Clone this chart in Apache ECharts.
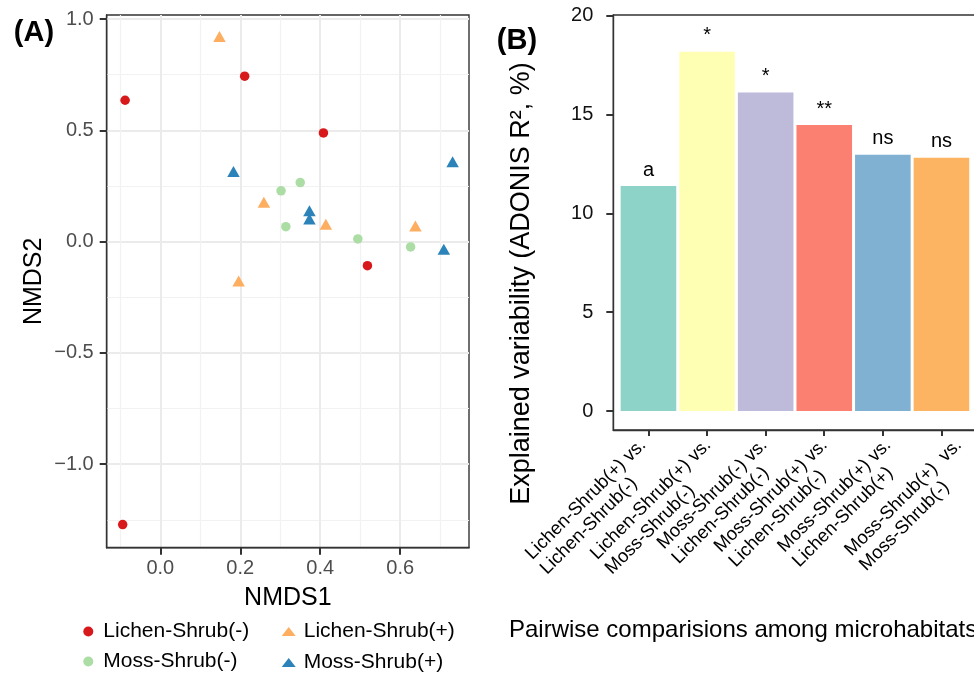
<!DOCTYPE html>
<html>
<head>
<meta charset="utf-8">
<script src="https://cdn.jsdelivr.net/npm/echarts@6/dist/echarts.min.js"></script>
<style>
html, body { margin: 0; padding: 0; background: #fff; }
#chart { width: 974px; height: 678px; }
</style>
</head>
<body>
<div id="chart"></div>
<script>
// panel A: NMDS scores per microhabitat [NMDS1, NMDS2]
const lichenMinus = [[-0.088, 0.635], [0.211, 0.743], [0.408, 0.488], [0.518, -0.108], [-0.094, -1.271]];
const mossMinus = [[0.302, 0.228], [0.350, 0.265], [0.314, 0.067], [0.494, 0.012], [0.626, -0.024]];
const lichenPlus = [[0.148, 0.921], [0.259, 0.177], [0.414, 0.078], [0.638, 0.070], [0.196, -0.177]];
const mossPlus = [[0.183, 0.315], [0.373, 0.139], [0.373, 0.102], [0.731, 0.359], [0.709, -0.034]];
const nmds1Ticks = [0, 0.2, 0.4, 0.6];
const nmds2Ticks = [-1, -0.5, 0, 0.5, 1];

// panel B: pairwise ADONIS R2 (%)
const pairFirst = ['Lichen-Shrub(+) vs.', 'Lichen-Shrub(+) vs.', 'Moss-Shrub(-) vs.', 'Moss-Shrub(+) vs.', 'Moss-Shrub(+) vs.', 'Moss-Shrub(+)  vs.'];
const pairSecond = ['Lichen-Shrub(-)', 'Moss-Shrub(-)', 'Lichen-Shrub(-)', 'Lichen-Shrub(-)', 'Lichen-Shrub(+)', 'Moss-Shrub(-)'];
const pairTicks = [1, 2, 3, 4, 5, 6];
const r2Values = [11.38, 18.17, 16.12, 14.47, 12.97, 12.81];
const signif = ['a', '*', '*', '**', 'ns', 'ns'];
const r2Ticks = [0, 5, 10, 15, 20];

const barColors = ['#8dd3c7', '#ffffb3', '#bebada', '#fb8072', '#80b1d3', '#fdb462'];
// horizontal nudge of each rotated tick label (px, to the right)
const labelNudge = [0, 6.3, 3.9, 5.6, 10.6, 22.6];
const FONT = '"Liberation Sans", Arial, Helvetica, sans-serif';
const TRIANGLE = 'path://M7,0L14,9L0,9Z';

const X_A = [-0.134, 0.772];
const Y_A = [-1.375, 1.018];
const X_B = [0.4, 6.6];
const Y_B = [-0.96, 20.035];

const chart = echarts.init(document.getElementById('chart'));

const minus = v => String(v.toFixed(1)).replace('-', '\u2212');

// axis that only draws the frame line and outward ticks
function tickAxis(gridIndex, range, values, len, position) {
    return {
        gridIndex: gridIndex, type: 'value', min: range[0], max: range[1], position: position,
        axisLine: { show: true, onZero: false, lineStyle: { color: '#333', width: 1.4 } },
        axisTick: { show: true, inside: false, customValues: values, length: len, lineStyle: { color: '#333', width: 2 } },
        axisLabel: { show: false },
        splitLine: { show: false }
    };
}

function scatter(name, data, symbol, color, size) {
    return {
        name: name,
        type: 'scatter',
        xAxisIndex: 0,
        yAxisIndex: 0,
        data: data,
        symbol: symbol,
        symbolSize: size,
        itemStyle: { color: color, opacity: 1 },
        emphasis: { disabled: true },
        z: 5
    };
}

// one hidden axis per pair label so every label can be nudged on its own
const labelAxes = pairFirst.map((first, i) => {
    const k = labelNudge[i] * Math.SQRT1_2;
    return {
        gridIndex: 1, type: 'value', min: X_B[0], max: X_B[1], position: 'bottom',
        axisLine: { show: false, onZero: false },
        axisTick: { show: false },
        splitLine: { show: false },
        axisLabel: {
            customValues: [pairTicks[i]],
            rotate: 45, align: 'right', verticalAlign: 'top', margin: -8,
            padding: [k, 18 - k, 0, 0],
            formatter: () => '{t|' + first + '}\n{t|' + pairSecond[i] + '}',
            rich: { t: { align: 'left', fontSize: 18.5, lineHeight: 21, color: '#000', fontFamily: FONT } }
        }
    };
});

chart.setOption({
    animation: false,
    textStyle: { fontFamily: FONT },
    grid: [
        { left: 106.7, top: 15, width: 362.3, height: 532.7, show: true, borderColor: '#333', borderWidth: 1.4, backgroundColor: 'transparent', outerBoundsMode: 'none', containLabel: false },
        { left: 613.3, top: 15, width: 363.3, height: 415, show: true, borderColor: '#333', borderWidth: 1.4, backgroundColor: 'transparent', outerBoundsMode: 'none', containLabel: false }
    ],
    xAxis: [
        {
            gridIndex: 0, type: 'value', min: X_A[0], max: X_A[1], position: 'bottom',
            name: 'NMDS1', nameLocation: 'middle', nameGap: 38,
            nameTextStyle: { fontSize: 25, color: '#000', fontFamily: FONT },
            axisLine: { show: false, onZero: false },
            axisTick: { show: false },
            axisLabel: { customValues: nmds1Ticks, fontSize: 20, color: '#4d4d4d', margin: 11, fontFamily: FONT, formatter: minus },
            splitLine: { show: true, showMinLine: false, showMaxLine: false, lineStyle: { color: '#ebebeb', width: 2 } },
            minorTick: { show: false, splitNumber: 2 },
            minorSplitLine: { show: true, lineStyle: { color: '#f2f2f2', width: 1.2 } }
        },
        tickAxis(1, X_B, pairTicks, 6, 'bottom'),
        tickAxis(0, X_A, nmds1Ticks, 7, 'bottom')
    ].concat(labelAxes),
    yAxis: [
        {
            gridIndex: 0, type: 'value', min: Y_A[0], max: Y_A[1], position: 'left',
            name: 'NMDS2', nameLocation: 'middle', nameGap: 60,
            nameTextStyle: { fontSize: 25, color: '#000', fontFamily: FONT },
            axisLine: { show: false, onZero: false },
            axisTick: { show: false },
            axisLabel: { customValues: nmds2Ticks, fontSize: 20, color: '#4d4d4d', margin: 13, fontFamily: FONT, formatter: minus },
            splitLine: { show: true, showMinLine: false, showMaxLine: false, lineStyle: { color: '#ebebeb', width: 2 } },
            minorTick: { show: false, splitNumber: 2 },
            minorSplitLine: { show: true, lineStyle: { color: '#f2f2f2', width: 1.2 } }
        },
        {
            gridIndex: 1, type: 'value', min: Y_B[0], max: Y_B[1], position: 'left',
            axisLine: { show: false, onZero: false },
            axisTick: { show: false },
            axisLabel: { customValues: r2Ticks, fontSize: 20, color: '#111', margin: 20, fontFamily: FONT },
            splitLine: { show: false }
        },
        tickAxis(0, Y_A, nmds2Ticks, 7, 'left'),
        tickAxis(1, Y_B, r2Ticks, 7, 'left')
    ],
    legend: [
        {
            left: 83.3, top: 621, orient: 'vertical', padding: 0, symbolKeepAspect: true,
            itemWidth: 20, itemHeight: 10, itemGap: 9,
            textStyle: { fontSize: 21, color: '#000', fontFamily: FONT },
            data: [{ name: 'Lichen-Shrub(-)', icon: 'circle' }, { name: 'Moss-Shrub(-)', icon: 'circle' }]
        },
        {
            left: 281.7, top: 621, orient: 'vertical', padding: 0, symbolKeepAspect: true,
            itemWidth: 20, itemHeight: 9, itemGap: 10,
            textStyle: { fontSize: 21, color: '#000', fontFamily: FONT },
            data: [{ name: 'Lichen-Shrub(+)', icon: TRIANGLE }, { name: 'Moss-Shrub(+)', icon: TRIANGLE }]
        }
    ],
    graphic: [
        { type: 'text', x: 34, y: 33, style: { text: '(A)', font: 'bold 29px ' + FONT, fill: '#000', align: 'center', verticalAlign: 'middle' } },
        { type: 'text', x: 517, y: 41, style: { text: '(B)', font: 'bold 29px ' + FONT, fill: '#000', align: 'center', verticalAlign: 'middle' } },
        { type: 'text', x: 522, y: 283.5, rotation: Math.PI / 2, style: { text: 'Explained variability (ADONIS R\u00b2, %)', font: '27px ' + FONT, fill: '#000', align: 'center', verticalAlign: 'middle' } },
        { type: 'text', x: 509, y: 630, style: { text: 'Pairwise comparisions among microhabitats', font: '24px ' + FONT, fill: '#000', align: 'left', verticalAlign: 'middle' } }
    ],
    series: [
        scatter('Lichen-Shrub(-)', lichenMinus, 'circle', '#d7191c', 9.5),
        scatter('Moss-Shrub(-)', mossMinus, 'circle', '#abdda4', 9.5),
        scatter('Lichen-Shrub(+)', lichenPlus, 'triangle', '#fdae61', [12.5, 11]),
        scatter('Moss-Shrub(+)', mossPlus, 'triangle', '#2b83ba', [12.5, 11]),
        {
            type: 'bar',
            xAxisIndex: 1,
            yAxisIndex: 1,
            barWidth: 55.6,
            data: r2Values.map((v, i) => ({ value: [pairTicks[i], v], itemStyle: { color: barColors[i] } })),
            label: {
                show: true, position: 'top', distance: 6,
                fontSize: 20, lineHeight: 20, color: '#000', fontFamily: FONT,
                formatter: p => signif[p.dataIndex]
            },
            emphasis: { disabled: true }
        }
    ]
});
</script>
</body>
</html>
